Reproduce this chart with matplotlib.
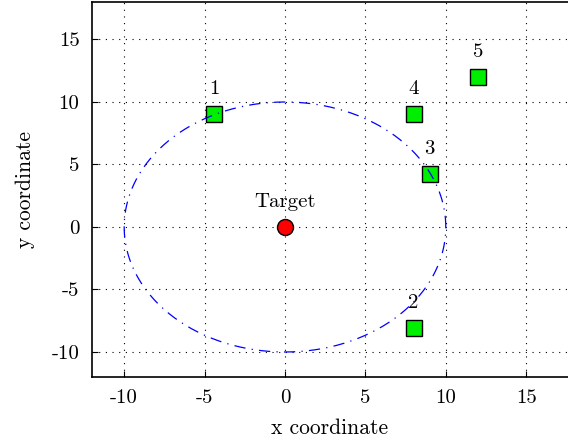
import numpy as np
import matplotlib
matplotlib.use("Agg")
import matplotlib.pyplot as plt

plt.rcParams['font.family'] = 'serif'
plt.rcParams['font.serif'] = ['cmr10', 'DejaVu Serif']
plt.rcParams['axes.unicode_minus'] = False
plt.rcParams['mathtext.fontset'] = 'cm'

# receivers and target
labels = ['1', '2', '3', '4', '5']
xs = [-4.4, 8.0, 9.0, 8.0, 12.0]
ys = [9.0, -8.1, 4.2, 9.0, 12.0]
target = (0.0, 0.0)
radius = 10.0

fig = plt.figure(figsize=(5.68, 4.43), dpi=100)
ax = fig.add_axes([0.162, 0.149, 0.838, 0.8465])

t = np.linspace(0, 2 * np.pi, 400)
ax.plot(xs, ys, 's', color='#00ee00', mec='black', mew=1.0, ms=12, zorder=3)
ax.plot(target[0], target[1], 'o', color='red', mec='black', mew=1.0, ms=11.5, zorder=3)
ax.plot(target[0] + radius * np.cos(t), target[1] + radius * np.sin(t),
        color='blue', lw=0.9, dashes=(9, 5, 1, 5), zorder=4)

for lab, x, y in zip(labels, xs, ys):
    ax.text(x, y + 1.3, lab, ha='center', va='bottom', fontsize=15)
ax.text(target[0], target[1] + 1.3, 'Target', ha='center', va='bottom', fontsize=15)

ax.set_xlim(-12, 17.6)
ax.set_ylim(-12, 18)
ax.set_xticks([-10, -5, 0, 5, 10, 15])
ax.set_yticks([-10, -5, 0, 5, 10, 15])
ax.grid(True, color='black', linestyle=(0, (1, 5)), lw=0.8)
ax.tick_params(direction='in', length=4, labelsize=15, pad=9)
ax.spines['right'].set_visible(False)
for s in ['left', 'bottom', 'top']:
    ax.spines[s].set_linewidth(1.2)
ax.set_xlabel('x coordinate', fontsize=15.5, labelpad=8)
ax.set_ylabel('y coordinate', fontsize=15.5, labelpad=12)

fig.savefig('out.png', dpi=100)
